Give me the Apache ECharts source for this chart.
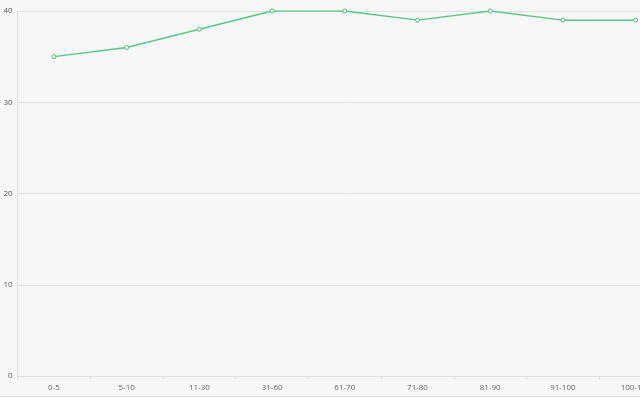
<!DOCTYPE html>
<html><head><meta charset="utf-8">
<script src="https://cdn.jsdelivr.net/npm/echarts@6/dist/echarts.min.js"></script>
<style>html,body{margin:0;padding:0;background:#f7f7f7;overflow:hidden;width:640px;height:398px}#c{width:680px;height:398px}</style>
</head><body><div id="c"></div>
<script>
const categories = ['0-5','5-10','11-30','31-60','61-70','71-80','81-90','91-100','100-150'];
const values = [35, 36, 38, 40, 40, 39, 40, 39, 39];
const yTicks = {min: 0, max: 40, interval: 10};

const chart = echarts.init(document.getElementById('c'));
chart.setOption({
  backgroundColor: '#f7f7f7',
  animation: false,
  textStyle: {fontFamily: 'Open Sans'},
  grid: {left: 17.6, right: 8, top: 11, bottom: 22, containLabel: false},
  xAxis: {
    type: 'category', data: categories, boundaryGap: true,
    axisLine: {lineStyle: {color: '#dcdcdc'}},
    axisTick: {show: true, lineStyle: {color: '#dcdcdc'}, length: 3},
    axisLabel: {color: '#666', fontSize: 8, margin: 8}
  },
  yAxis: {
    type: 'value', min: yTicks.min, max: yTicks.max, interval: yTicks.interval,
    axisLine: {show: true, lineStyle: {color: '#dcdcdc'}},
    axisTick: {show: false},
    splitLine: {lineStyle: {color: '#e2e2e2'}},
    axisLabel: {color: '#555', fontSize: 8, margin: 5}
  },
  graphic: [{type: 'line', shape: {x1: 0, y1: 396.5, x2: 680, y2: 396.5}, style: {stroke: '#e6e6e6', lineWidth: 1}}],
  series: [{
    type: 'line', data: values,
    symbol: 'circle', symbolSize: 4, showSymbol: true,
    itemStyle: {color: '#f7f7f7', borderColor: '#52b97c', borderWidth: 1},
    lineStyle: {color: '#5ac48a', width: 1.5}
  }]
});
</script></body></html>
